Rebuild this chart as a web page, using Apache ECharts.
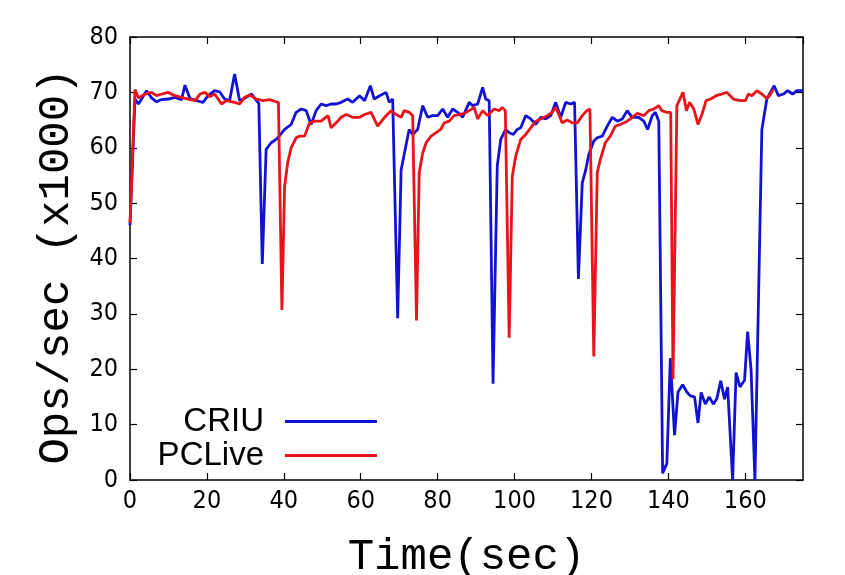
<!DOCTYPE html>
<html>
<head>
<meta charset="utf-8">
<script src="https://cdn.jsdelivr.net/npm/echarts@6/dist/echarts.min.js"></script>
<style>
	html, body { margin: 0; padding: 0; background: #fff; }
	#chart { width: 845px; height: 575px; }
</style>
</head>
<body>
<div id="chart"></div>
<script>
// throughput during live migration
let criuTime = [0, 1.3, 2.2, 3, 4.3, 5.6, 6.9, 8.2, 9.9, 11.7, 13.4, 14.3, 15.6, 17.3, 19, 20.3, 22, 23.3, 24.6, 25.9,
	27.2, 28.5, 30.3, 31.6, 32.9, 33.5, 34.4, 35.4, 36.7, 38, 38.9, 40.2, 41.9, 43.2, 44.5, 45.8, 47.1, 48.4, 49.7, 51,
	52.3, 53.6, 54.9, 56.6, 57.9, 59.7, 61, 62.5, 63.5, 64.9, 66.6, 67.4, 68.3, 69.6, 70.5, 71.8, 72.6, 73.5, 74.8, 76.1,
	77.4, 78.7, 80, 81.3, 82.6, 83.9, 85.2, 86.5, 88.2, 89.1, 90.4, 91.7, 92.5, 93.4, 94.4, 95.5, 96.4, 97.7, 98.6, 99.7,
	100.7, 101.6, 102.9, 104.2, 105.5, 106.8, 108.1, 109.4, 110.7, 112, 113.3, 114.6, 115.6, 116.6, 117.6, 118.5, 119.3, 120.6, 121.5, 122.8,
	124.1, 125.4, 126.7, 128, 129.3, 130.6, 132.3, 133.6, 134.6, 135.8, 136.6, 137.5, 138.5, 139.6, 140.5, 141.6, 142.5, 143.7, 144.8, 145.7,
	146.8, 147.7, 148.5, 149.6, 150.6, 151.7, 152.6, 153.6, 154.6, 155.4, 156.7, 157.6, 158.6, 159.8, 160.6, 161.5, 162.5, 164.3, 165.6, 167.5,
	168.6, 169.9, 171, 172.3, 173.4, 175]
let criuOps = [46, 68.8, 67.9, 68.8, 70.3, 69, 68.3, 68.7, 68.8, 69.1, 68.7, 71.3, 68.9, 68.5, 68.2, 69.4, 70.3, 70.1, 68.8, 68.5,
	73.3, 68.5, 69.1, 69.7, 68.5, 68, 39, 59.7, 60.9, 61.5, 62.2, 63.3, 64.2, 66.4, 67, 66.7, 64.2, 66.7, 67.9, 67.6,
	67.9, 67.9, 68.2, 68.8, 68.2, 69.4, 68.5, 71.2, 68.8, 69.4, 70, 68.2, 68.8, 29.2, 56, 60.6, 63.3, 62.4, 63.3, 67.6,
	65.5, 65.8, 65.8, 67, 65.5, 67, 66.4, 65.5, 68.2, 67.6, 67.9, 70.9, 68.8, 68.5, 17.4, 56.7, 61.5, 63.3, 62.7, 62.4,
	63.3, 63.6, 65.8, 65.2, 64.2, 65.5, 65.2, 65.8, 68.2, 65.5, 68.2, 67.9, 68.2, 36.3, 53.6, 56, 58.8, 61.2, 61.8, 62.1,
	63.9, 65.5, 64.8, 65.2, 66.7, 65.5, 65.5, 64.8, 63.3, 65.8, 66.4, 64.8, 1.2, 3, 22, 8.1, 15.9, 17.2, 15.9, 15.2,
	15, 10.3, 15.8, 13.7, 15, 13.7, 14.7, 17.9, 14.6, 16.8, 0, 19.4, 16.8, 18, 26.8, 19.9, 0, 63.3, 68.8, 71.2,
	69.4, 69.7, 70.3, 69.7, 70.3, 70.3]

let pcliveTime = [0, 1.3, 2.2, 3.9, 5.6, 6.9, 8.2, 9.9, 11.7, 13.4, 15.1, 16.9, 18.2, 19.5, 20.7, 22, 23.8, 25, 27.2, 28.5,
	29.8, 31.1, 32.9, 34.6, 36.3, 38, 38.6, 39.5, 40.2, 41, 41.9, 43.2, 44.1, 45.4, 46.7, 48, 49.7, 51.5, 52.3, 53.6,
	54.9, 56.2, 57.9, 59.7, 61, 62.7, 64.4, 66.2, 67.9, 69.2, 70.5, 71.3, 72.6, 73.5, 74.5, 75.2, 76.1, 77, 78.3, 79.5,
	80.8, 81.7, 83, 84.3, 85.6, 86.9, 88.2, 89.5, 90.4, 91.7, 93, 94.7, 96, 96.8, 97.6, 98.6, 99.4, 100.3, 101.6, 102.9,
	104.2, 105.5, 106.8, 108.5, 109.8, 110.7, 112.4, 113.7, 115, 116.3, 117.6, 118.8, 119.6, 120.6, 121.5, 122.3, 123.6, 124.9, 126.2, 127.5,
	129.3, 130.6, 131.9, 133.6, 134.9, 136.2, 137.5, 138.3, 139.6, 140.6, 141.2, 142.2, 143.8, 144.7, 145.5, 146.6, 147.7, 148.7, 149.8, 151,
	152.4, 153.9, 155.2, 156.9, 158.7, 160, 160.8, 161.7, 163, 164.3, 165.6, 166.6, 167.3]
let pcliveOps = [46.4, 70.5, 69, 69.7, 70, 69.4, 69.7, 70, 69.4, 69.1, 68.8, 68.5, 69.7, 70, 69.2, 69.7, 67.9, 68.5, 68.2, 67.9,
	69.1, 69.5, 68.8, 68.5, 68.7, 68.3, 68.2, 30.7, 53, 57.3, 60, 61.8, 62.1, 62.1, 64.5, 64.8, 64.8, 65.8, 63.6, 64.5,
	65.5, 66, 65.5, 65.5, 66, 66.4, 63.9, 65.5, 66.7, 66, 65.5, 66.7, 66.4, 65.8, 28.8, 55.5, 59, 60.9, 62.1, 62.7,
	63.3, 64.5, 64.8, 65.8, 66, 66.2, 66.7, 67.3, 65.2, 66.7, 65.8, 67, 66.7, 67.3, 66.7, 25.7, 54.8, 58.5, 61.5, 62.4,
	63.6, 64.8, 65.2, 65.8, 66.4, 67.3, 64.5, 65, 64.5, 64.5, 65.8, 66.7, 67, 22.3, 55.5, 57.9, 60.9, 62.1, 63.9, 64.2,
	64.8, 65.5, 66.2, 65.8, 66.7, 67, 67.6, 66.7, 66.4, 66.4, 18.2, 67.6, 70, 66.7, 68.2, 67, 64.2, 66, 68.5, 68.8,
	69.4, 69.7, 70, 68.8, 68.5, 68.5, 69.7, 69.4, 70.3, 69.7, 68.9, 69.7, 70.6]

let xTicks = [0, 175, 20]
let yTicks = [0, 80, 10]

let tickFont = "'Liberation Sans Narrow', 'DejaVu Sans Condensed', 'Liberation Sans', sans-serif"
let monoFont = "'Liberation Mono', 'DejaVu Sans Mono', monospace"

function zip(xs, ys) {
	return xs.map(function (x, i) {
		return [x, ys[i]]
	})
}

function legendFor(name, top) {
	return {
		data: [name],
		right: 463,
		top: top,
		align: "right",
		icon: "rect",
		itemWidth: 92,
		itemHeight: 3,
		textStyle: {fontSize: 33, color: "#000", fontFamily: "'Liberation Sans', sans-serif", padding: [0, 16, 0, 0]}
	}
}

let chart = echarts.init(document.getElementById("chart"))

let axisLine = {show: true, onZero: false, lineStyle: {color: "#000", width: 1.5}}
let axisTick = {show: true, inside: true, length: 7, lineStyle: {color: "#000", width: 1.2}}

chart.setOption({
	animation: false,
	backgroundColor: "#fff",
	grid: {
		left: 130,
		top: 37,
		right: 42,
		bottom: 95,
		outerBoundsMode: "none"
	},
	legend: [
		legendFor("CRIU", 400),
		legendFor("PCLive", 434)
	],
	xAxis: [
		{
			type: "value",
			min: xTicks[0],
			max: xTicks[1],
			interval: xTicks[2],
			position: "bottom",
			name: "Time(sec)",
			nameLocation: "middle",
			nameGap: 55,
			nameTextStyle: {fontSize: 44, color: "#000", fontFamily: monoFont},
			axisLine: axisLine,
			axisTick: axisTick,
			splitLine: {show: false},
			axisLabel: {
				fontSize: 25,
				color: "#000",
				fontFamily: tickFont,
				margin: 9,
				showMaxLabel: false
			}
		},
		{
			type: "value",
			min: xTicks[0],
			max: xTicks[1],
			interval: xTicks[2],
			position: "top",
			axisLine: axisLine,
			axisTick: axisTick,
			splitLine: {show: false},
			axisLabel: {show: false}
		}
	],
	yAxis: [
		{
			type: "value",
			min: yTicks[0],
			max: yTicks[1],
			interval: yTicks[2],
			position: "left",
			name: "Ops/sec (x1000)",
			nameLocation: "middle",
			nameGap: 52,
			nameTextStyle: {fontSize: 44, color: "#000", fontFamily: monoFont, padding: [0, 16, 0, 0]},
			axisLine: axisLine,
			axisTick: axisTick,
			splitLine: {show: false},
			axisLabel: {
				fontSize: 25,
				color: "#000",
				fontFamily: tickFont,
				margin: 12
			}
		},
		{
			type: "value",
			min: yTicks[0],
			max: yTicks[1],
			interval: yTicks[2],
			position: "right",
			axisLine: axisLine,
			axisTick: axisTick,
			splitLine: {show: false},
			axisLabel: {show: false}
		}
	],
	series: [
		{
			name: "CRIU",
			type: "line",
			data: zip(criuTime, criuOps),
			symbol: "none",
			lineStyle: {color: "#1212d2", width: 2.8},
			itemStyle: {color: "#1212d2"}
		},
		{
			name: "PCLive",
			type: "line",
			data: zip(pcliveTime, pcliveOps),
			symbol: "none",
			lineStyle: {color: "#e8141a", width: 2.8},
			itemStyle: {color: "#e8141a"}
		}
	]
})
</script>
</body>
</html>
